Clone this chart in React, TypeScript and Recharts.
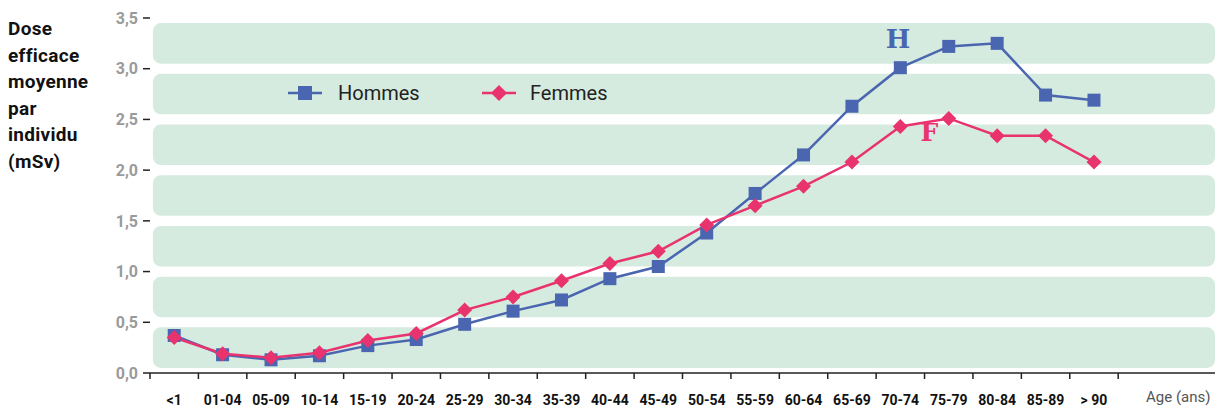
import { Line, LineChart, ReferenceArea, ReferenceDot, XAxis, YAxis } from "recharts";

const AGE_GROUPS = ["<1", "01-04", "05-09", "10-14", "15-19", "20-24", "25-29", "30-34", "35-39", "40-44", "45-49", "50-54", "55-59", "60-64", "65-69", "70-74", "75-79", "80-84", "85-89", "> 90"];
const HOMMES = [0.37, 0.18, 0.13, 0.17, 0.27, 0.33, 0.48, 0.61, 0.72, 0.93, 1.05, 1.38, 1.77, 2.15, 2.63, 3.01, 3.22, 3.25, 2.74, 2.69];
const FEMMES = [0.35, 0.19, 0.15, 0.2, 0.32, 0.39, 0.62, 0.75, 0.91, 1.08, 1.2, 1.46, 1.65, 1.84, 2.08, 2.43, 2.51, 2.34, 2.34, 2.08];
const Y_TICKS = [0, 0.5, 1, 1.5, 2, 2.5, 3, 3.5];

const BLUE = "#4a66b0";
const PINK = "#e8336e";
const GREEN = "#d6ebdf";
const HALF_BAND = 1065 / 22 / 2;

const data = AGE_GROUPS.map((age, i) => ({ x: i + 0.5, age, hommes: HOMMES[i], femmes: FEMMES[i] }));

const Square = (props: any) => {
  const { cx, cy } = props;
  if (cx == null || cy == null) return null;
  return <rect x={cx - 6.5} y={cy - 6.5} width={13} height={13} fill={BLUE} />;
};

const Diamond = (props: any) => {
  const { cx, cy } = props;
  if (cx == null || cy == null) return null;
  const r = 7.5;
  return <polygon points={`${cx},${cy - r} ${cx + r},${cy} ${cx},${cy + r} ${cx - r},${cy}`} fill={PINK} />;
};

const AgeTick = (props: any) => {
  const { x, y, payload } = props;
  const label = AGE_GROUPS[payload.value];
  if (!label) return null;
  return (
    <text x={x + HALF_BAND} y={y} dy={24} textAnchor="middle" fontFamily="Roboto, sans-serif" fontWeight={700} fontSize={14} fill="#111">
      {label}
    </text>
  );
};

const LegendBox = () => (
  <svg width={360} height={30}>
    <line x1={3} y1={13} x2={37} y2={13} stroke={BLUE} strokeWidth={2.5} />
    <rect x={13} y={6} width={14} height={14} fill={BLUE} />
    <text x={53} y={20} fontFamily="Roboto, sans-serif" fontSize={20} fill="#222">Hommes</text>
    <line x1={197} y1={13} x2={231} y2={13} stroke={PINK} strokeWidth={2.5} />
    <polygon points="214,5 222,13 214,21 206,13" fill={PINK} />
    <text x={245} y={20} fontFamily="Roboto, sans-serif" fontSize={20} fill="#222">Femmes</text>
  </svg>
);

export default function App() {
  return (
    <div style={{ position: "absolute", top: 0, left: 0, width: 1220, height: 409, background: "#fff" }}>
      <div style={{ position: "absolute", left: 8, top: 16, fontFamily: "Roboto, sans-serif", fontWeight: 700, fontSize: 19, lineHeight: "26.6px", color: "#111", letterSpacing: 0.3 }}>
        Dose<br />efficace<br />moyenne<br />par<br />individu<br />(mSv)
      </div>
      <div style={{ position: "absolute", left: 1146, top: 388, fontFamily: "Roboto, sans-serif", fontSize: 15, color: "#555" }}>Age (ans)</div>
      <LineChart width={1220} height={409} data={data} margin={{ top: 18, right: 5, bottom: 0, left: 0 }}>
        {Y_TICKS.slice(0, -1).map((v) => (
          <ReferenceArea key={v} y1={v + 0.05} y2={v + 0.45} x1={0.06} x2={22} fill={GREEN} fillOpacity={1} stroke="none" radius={8} />
        ))}
        <XAxis
          dataKey="x"
          type="number"
          domain={[0, 22]}
          ticks={Array.from({ length: 21 }, (_, i) => i)}
          interval={0}
          height={36}
          axisLine={{ stroke: "#222", strokeWidth: 1.5 }}
          tickLine={{ stroke: "#222", strokeWidth: 1.5 }}
          tickSize={6}
          tick={<AgeTick />}
        />
        <YAxis
          domain={[0, 3.5]}
          ticks={Y_TICKS}
          width={150}
          axisLine={false}
          tickLine={{ stroke: "#222", strokeWidth: 1.5 }}
          tickSize={7}
          tickMargin={5}
          tickFormatter={(v: number) => v.toFixed(1).replace(".", ",")}
          tick={{ fill: "#9a9a9a", fontFamily: "Roboto, sans-serif", fontWeight: 700, fontSize: 16 }}
        />
        <Line dataKey="hommes" name="Hommes" stroke={BLUE} strokeWidth={2.5} dot={<Square />} activeDot={false} isAnimationActive={false} />
        <Line dataKey="femmes" name="Femmes" stroke={PINK} strokeWidth={2.5} dot={<Diamond />} activeDot={false} isAnimationActive={false} />
        <ReferenceDot x={15.45} y={3.3} r={0} fill="none" stroke="none" label={{ value: "H", position: "center", fill: BLUE, fontFamily: "DejaVu Serif, serif", fontWeight: 700, fontSize: 26 }} />
        <ReferenceDot x={16.1} y={2.37} r={0} fill="none" stroke="none" label={{ value: "F", position: "center", fill: PINK, fontFamily: "DejaVu Serif, serif", fontWeight: 700, fontSize: 25 }} />
      </LineChart>
      <div style={{ position: "absolute", left: 285, top: 80 }}>
        <LegendBox />
      </div>
    </div>
  );
}
